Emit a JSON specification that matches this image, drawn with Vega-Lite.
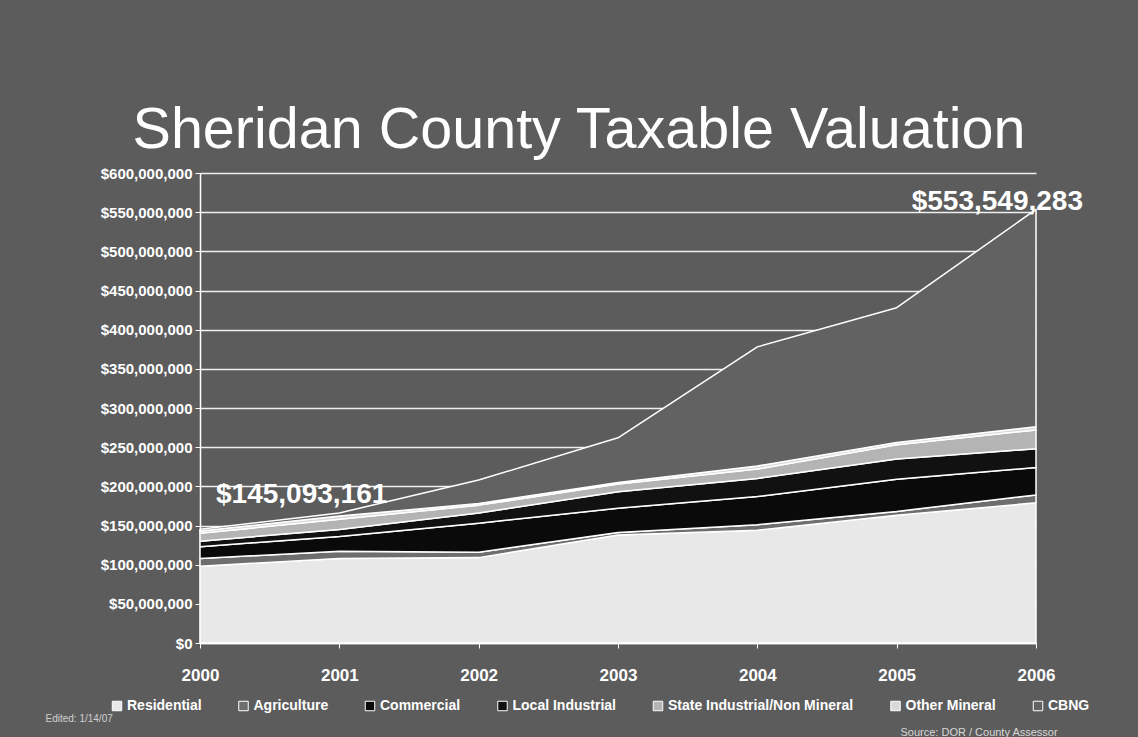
{
  "$schema": "https://vega.github.io/schema/vega-lite/v6.json",
  "width": 836,
  "height": 470,
  "autosize": {"type": "none"},
  "padding": {"left": 200, "top": 173, "right": 102, "bottom": 94},
  "background": "#5c5c5c",
  "title": {
    "text": "Sheridan County Taxable Valuation",
    "font": "Liberation Sans",
    "fontSize": 57.5,
    "fontWeight": "normal",
    "color": "white",
    "anchor": "middle",
    "frame": "group",
    "baseline": "alphabetic",
    "offset": 23,
    "dx": -39,
    "dy": 62
  },
  "datasets": {
    "vals": [
      {"year": "2000", "category": "Residential", "rank": 1, "value": 98000000},
      {"year": "2000", "category": "Agriculture", "rank": 2, "value": 10000000},
      {"year": "2000", "category": "Commercial", "rank": 3, "value": 15000000},
      {"year": "2000", "category": "Local Industrial", "rank": 4, "value": 7000000},
      {"year": "2000", "category": "State Industrial/Non Mineral", "rank": 5, "value": 10000000},
      {"year": "2000", "category": "Other Mineral", "rank": 6, "value": 3000000},
      {"year": "2000", "category": "CBNG", "rank": 7, "value": 2093161},
      {"year": "2001", "category": "Residential", "rank": 1, "value": 108000000},
      {"year": "2001", "category": "Agriculture", "rank": 2, "value": 9000000},
      {"year": "2001", "category": "Commercial", "rank": 3, "value": 19000000},
      {"year": "2001", "category": "Local Industrial", "rank": 4, "value": 9000000},
      {"year": "2001", "category": "State Industrial/Non Mineral", "rank": 5, "value": 13000000},
      {"year": "2001", "category": "Other Mineral", "rank": 6, "value": 4000000},
      {"year": "2001", "category": "CBNG", "rank": 7, "value": 4000000},
      {"year": "2002", "category": "Residential", "rank": 1, "value": 109000000},
      {"year": "2002", "category": "Agriculture", "rank": 2, "value": 7000000},
      {"year": "2002", "category": "Commercial", "rank": 3, "value": 37000000},
      {"year": "2002", "category": "Local Industrial", "rank": 4, "value": 13000000},
      {"year": "2002", "category": "State Industrial/Non Mineral", "rank": 5, "value": 10000000},
      {"year": "2002", "category": "Other Mineral", "rank": 6, "value": 2000000},
      {"year": "2002", "category": "CBNG", "rank": 7, "value": 30000000},
      {"year": "2003", "category": "Residential", "rank": 1, "value": 138000000},
      {"year": "2003", "category": "Agriculture", "rank": 2, "value": 3000000},
      {"year": "2003", "category": "Commercial", "rank": 3, "value": 31000000},
      {"year": "2003", "category": "Local Industrial", "rank": 4, "value": 21000000},
      {"year": "2003", "category": "State Industrial/Non Mineral", "rank": 5, "value": 10000000},
      {"year": "2003", "category": "Other Mineral", "rank": 6, "value": 2000000},
      {"year": "2003", "category": "CBNG", "rank": 7, "value": 57000000},
      {"year": "2004", "category": "Residential", "rank": 1, "value": 144000000},
      {"year": "2004", "category": "Agriculture", "rank": 2, "value": 7000000},
      {"year": "2004", "category": "Commercial", "rank": 3, "value": 36000000},
      {"year": "2004", "category": "Local Industrial", "rank": 4, "value": 23000000},
      {"year": "2004", "category": "State Industrial/Non Mineral", "rank": 5, "value": 12000000},
      {"year": "2004", "category": "Other Mineral", "rank": 6, "value": 4000000},
      {"year": "2004", "category": "CBNG", "rank": 7, "value": 152000000},
      {"year": "2005", "category": "Residential", "rank": 1, "value": 163000000},
      {"year": "2005", "category": "Agriculture", "rank": 2, "value": 5000000},
      {"year": "2005", "category": "Commercial", "rank": 3, "value": 41000000},
      {"year": "2005", "category": "Local Industrial", "rank": 4, "value": 26000000},
      {"year": "2005", "category": "State Industrial/Non Mineral", "rank": 5, "value": 18000000},
      {"year": "2005", "category": "Other Mineral", "rank": 6, "value": 3000000},
      {"year": "2005", "category": "CBNG", "rank": 7, "value": 172000000},
      {"year": "2006", "category": "Residential", "rank": 1, "value": 179000000},
      {"year": "2006", "category": "Agriculture", "rank": 2, "value": 10000000},
      {"year": "2006", "category": "Commercial", "rank": 3, "value": 35000000},
      {"year": "2006", "category": "Local Industrial", "rank": 4, "value": 24000000},
      {"year": "2006", "category": "State Industrial/Non Mineral", "rank": 5, "value": 24000000},
      {"year": "2006", "category": "Other Mineral", "rank": 6, "value": 4000000},
      {"year": "2006", "category": "CBNG", "rank": 7, "value": 277549283}
    ],
    "labels": [
      {"year": "2000", "total": 145093161, "label": "$145,093,161"},
      {"year": "2006", "total": 553549283, "label": "$553,549,283"}
    ]
  },
  "layer": [
    {
      "data": {"name": "vals"},
      "mark": {"type": "area", "stroke": "white", "strokeWidth": 1.5, "strokeJoin": "round"},
      "encoding": {
        "x": {
          "field": "year",
          "type": "ordinal",
          "scale": {"type": "point", "padding": 0},
          "axis": {
            "labelAngle": 0,
            "labelColor": "white",
            "labelFont": "Liberation Sans",
            "labelFontWeight": "bold",
            "labelFontSize": 17,
            "labelPadding": 19,
            "tickColor": "white",
            "tickSize": 5,
            "domainColor": "white",
            "domainWidth": 1.5,
            "grid": false,
            "title": "Source:  DOR / County Assessor",
            "titleColor": "#d8d8d8",
            "titleFont": "Liberation Sans",
            "titleFontSize": 11,
            "titleFontWeight": "normal",
            "titleAlign": "left",
            "titleBaseline": "middle",
            "titleX": 700,
            "titleY": 89
          }
        },
        "y": {
          "field": "value",
          "type": "quantitative",
          "stack": "zero",
          "scale": {"domain": [0, 600000000], "nice": false},
          "axis": {
            "values": [0, 50000000, 100000000, 150000000, 200000000, 250000000, 300000000, 350000000, 400000000, 450000000, 500000000, 550000000, 600000000],
            "tickCount": 20,
            "labelOverlap": false,
            "format": "$,.0f",
            "labelColor": "white",
            "labelFont": "Liberation Sans",
            "labelFontWeight": "bold",
            "labelFontSize": 15,
            "labelPadding": 3,
            "tickColor": "white",
            "tickSize": 5,
            "domainColor": "white",
            "domainWidth": 1.5,
            "grid": true,
            "gridColor": "white",
            "gridWidth": 1.5,
            "gridOpacity": 0.9,
            "title": "Edited:  1/14/07",
            "titleColor": "#d0d0d0",
            "titleFont": "Liberation Sans",
            "titleFontSize": 10,
            "titleFontWeight": "normal",
            "titleAngle": 0,
            "titleAlign": "left",
            "titleBaseline": "middle",
            "titleX": -155,
            "titleY": 545
          }
        },
        "color": {
          "field": "category",
          "type": "nominal",
          "scale": {
            "domain": ["Residential", "Agriculture", "Commercial", "Local Industrial", "State Industrial/Non Mineral", "Other Mineral", "CBNG"],
            "range": ["#e8e8e8", "#6e6e6e", "#0a0a0a", "#111111", "#b4b4b4", "#d9d9d9", "#626262"]
          },
          "legend": {
            "orient": "none",
            "legendX": -90,
            "legendY": 526,
            "direction": "horizontal",
            "columns": 7,
            "title": null,
            "symbolType": "square",
            "symbolSize": 90,
            "symbolStrokeColor": "white",
            "symbolStrokeWidth": 1,
            "labelColor": "white",
            "labelFont": "Liberation Sans",
            "labelFontWeight": "bold",
            "labelFontSize": 14,
            "labelOffset": 3,
            "columnPadding": 34.5,
            "labelLimit": 300
          }
        },
        "order": {"field": "rank", "type": "quantitative"}
      }
    },
    {
      "data": {"name": "labels"},
      "transform": [{"filter": "datum.year == '2000'"}],
      "mark": {"type": "text", "align": "left", "baseline": "alphabetic", "dx": 16, "dy": -26, "font": "Liberation Sans", "fontWeight": "bold", "fontSize": 28, "color": "white"},
      "encoding": {
        "x": {"field": "year", "type": "ordinal"},
        "y": {"field": "total", "type": "quantitative"},
        "text": {"field": "label"}
      }
    },
    {
      "data": {"name": "labels"},
      "transform": [{"filter": "datum.year == '2006'"}],
      "mark": {"type": "text", "align": "right", "baseline": "alphabetic", "dx": 47, "dy": 1, "font": "Liberation Sans", "fontWeight": "bold", "fontSize": 28, "color": "white"},
      "encoding": {
        "x": {"field": "year", "type": "ordinal"},
        "y": {"field": "total", "type": "quantitative"},
        "text": {"field": "label"}
      }
    }
  ],
  "config": {"view": {"stroke": null}}
}
